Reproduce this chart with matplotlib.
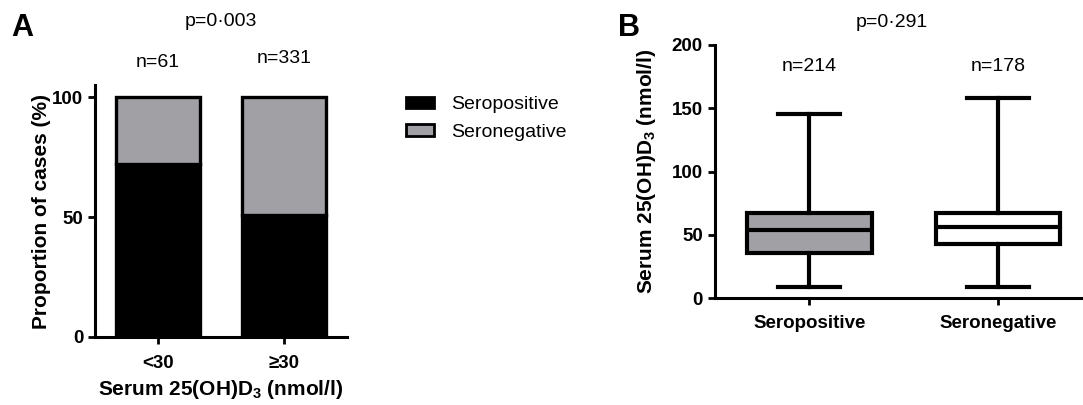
import numpy as np
import matplotlib
matplotlib.use('agg')
import matplotlib.pyplot as plt
from matplotlib.patches import Patch

plt.rcParams['font.family'] = ['Liberation Sans', 'DejaVu Sans']
plt.rcParams['mathtext.fontset'] = 'custom'
plt.rcParams['mathtext.rm'] = 'Liberation Sans:bold'
plt.rcParams['mathtext.default'] = 'rm'

# -------------------- data --------------------
vit_groups = ['<30', '≥30']
seropos_pct = [72, 51]
seroneg_pct = [28, 49]
group_n = ['n=61', 'n=331']
p_a = 'p=0·003'

box_groups = ['Seropositive', 'Seronegative']
box_n = ['n=214', 'n=178']
whislo = [8.5, 9]
q1 = [36, 42.5]
med = [54, 56.5]
q3 = [67.5, 67.5]
whishi = [145.5, 158]
p_b = 'p=0·291'

GREY = '#a1a1a5'
LW = 2.4
TICK_FS = 13.5
LAB_FS = 15
TXT_FS = 14

fig = plt.figure(figsize=(10.83, 4.05), dpi=100)

# -------------------- panel A --------------------
axA = fig.add_axes([0.0877, 0.168, 0.2327, 0.622])
x = np.arange(len(vit_groups))
axA.bar(x, seropos_pct, width=0.66, color='black', edgecolor='black', linewidth=LW)
axA.bar(x, seroneg_pct, bottom=seropos_pct, width=0.66, color=GREY,
        edgecolor='black', linewidth=LW)
axA.set_xlim(-0.5, 1.5)
axA.set_ylim(0, 105)
axA.set_yticks([0, 50, 100])
axA.set_xticks(x)
axA.set_xticklabels(vit_groups, fontsize=TICK_FS, fontweight='bold')
for lab in axA.get_yticklabels():
    lab.set_fontsize(TICK_FS)
    lab.set_fontweight('bold')
axA.set_ylabel('Proportion of cases (%)', fontsize=LAB_FS, fontweight='bold', labelpad=1)
axA.set_xlabel(r'Serum 25(OH)D$_3$ (nmol/l)', fontsize=LAB_FS, fontweight='bold', labelpad=4)
for s in ['top', 'right']:
    axA.spines[s].set_visible(False)
for s in ['left', 'bottom']:
    axA.spines[s].set_linewidth(2.2)
axA.tick_params(width=2, length=5)
axA.tick_params(axis='x', pad=8)

n_y = [114.5, 116]
for xi, t, yy in zip(x, group_n, n_y):
    axA.text(xi, yy, t, ha='center', va='center', fontsize=TXT_FS)
axA.text(0.5, 131.5, p_a, ha='center', va='center', fontsize=TXT_FS)
fig.text(0.010, 0.912, 'A', fontsize=22, fontweight='bold')

handles = [Patch(facecolor='black', edgecolor='black', linewidth=2, label='Seropositive'),
           Patch(facecolor=GREY, edgecolor='black', linewidth=2, label='Seronegative')]
fig.legend(handles=handles, loc='upper left', bbox_to_anchor=(0.359, 0.805),
           frameon=False, fontsize=TXT_FS, handlelength=1.4, handleheight=0.55,
           handletextpad=0.9, labelspacing=0.55)

# -------------------- panel B --------------------
axB = fig.add_axes([0.660, 0.264, 0.34, 0.625])
stats = []
for i in range(len(box_groups)):
    stats.append({'whislo': whislo[i], 'q1': q1[i], 'med': med[i],
                  'q3': q3[i], 'whishi': whishi[i], 'label': box_groups[i]})
bp = axB.bxp(stats, positions=[0, 1], widths=0.66, showfliers=False, patch_artist=True,
             boxprops=dict(linewidth=3, edgecolor='black'),
             medianprops=dict(color='black', linewidth=3),
             whiskerprops=dict(color='black', linewidth=3),
             capprops=dict(color='black', linewidth=3),
             capwidths=0.33)
for patch, fc in zip(bp['boxes'], [GREY, 'white']):
    patch.set_facecolor(fc)
axB.set_xlim(-0.5, 1.45)
axB.set_ylim(0, 200)
axB.set_yticks([0, 50, 100, 150, 200])
axB.set_xticklabels(box_groups, fontsize=TICK_FS, fontweight='bold')
for lab in axB.get_yticklabels():
    lab.set_fontsize(TICK_FS)
    lab.set_fontweight('bold')
axB.set_ylabel(r'Serum 25(OH)D$_3$ (nmol/l)', fontsize=LAB_FS, fontweight='bold', labelpad=10)
for s in ['top', 'right']:
    axB.spines[s].set_visible(False)
for s in ['left', 'bottom']:
    axB.spines[s].set_linewidth(2.2)
axB.tick_params(width=2, length=5)
axB.tick_params(axis='x', pad=7)

for xi, t in zip([0, 1], box_n):
    axB.text(xi, 183, t, ha='center', va='center', fontsize=TXT_FS)
axB.text(0.44, 218, p_b, ha='center', va='center', fontsize=TXT_FS, clip_on=False)
fig.text(0.571, 0.912, 'B', fontsize=22, fontweight='bold')

fig.savefig('out.png', dpi=100)
